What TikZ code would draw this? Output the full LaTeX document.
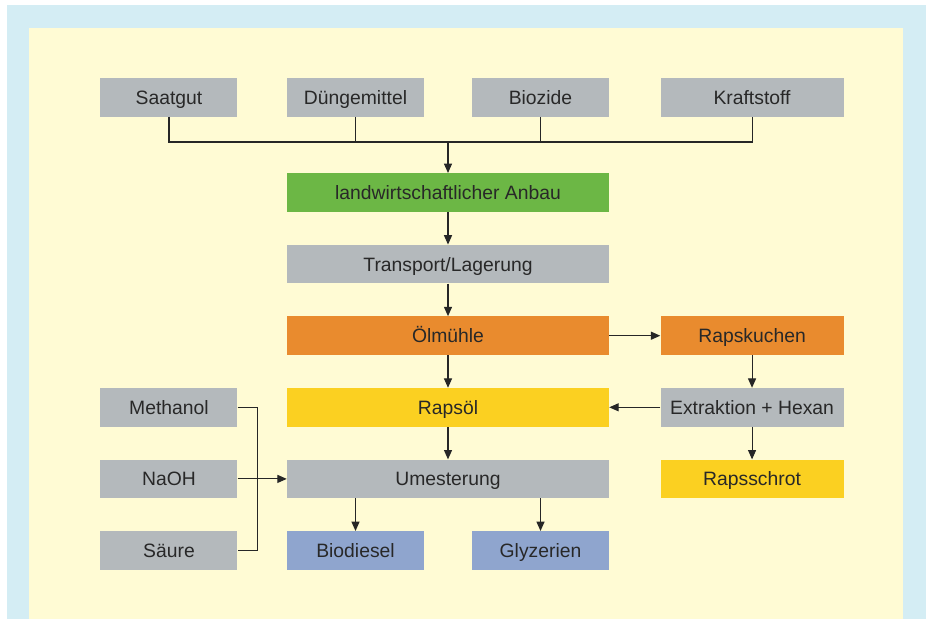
\documentclass[tikz,border=0pt]{standalone}
\usepackage{fontspec}
\setmainfont{Liberation Sans}
\usetikzlibrary{positioning, arrows.meta}
\definecolor{panelblue}{RGB}{212,237,244}
\definecolor{panelyellow}{RGB}{255,251,212}
\definecolor{boxgray}{RGB}{180,185,188}
\definecolor{boxgreen}{RGB}{108,183,69}
\definecolor{boxorange}{RGB}{233,139,46}
\definecolor{boxyellow}{RGB}{251,208,33}
\definecolor{boxblue}{RGB}{143,165,206}
\definecolor{textgray}{RGB}{40,40,40}

\begin{document}
\begin{tikzpicture}[
		x=0.75pt, y=-0.75pt,
		node distance=24.4pt and 36.75pt,
		box/.style={inner sep=0pt, minimum height=28.9pt, text height=10.4pt, text depth=0pt, text=textgray, font=\fontsize{14.5}{16}\selectfont},
		wide/.style={box, minimum width=241.5pt},
		small/.style={box, minimum width=102.75pt},
		side/.style={box, minimum width=137.25pt},
		arrow/.style={-{Triangle[length=7pt, width=6pt]}, thick, color=black!85},
		link/.style={thick, color=black!85}
		]
		
		% ==========================================
		% BACKGROUND PANEL
		% ==========================================
		\useasboundingbox (0,0) rectangle (930,619);
		\fill[panelblue] (7,5) rectangle (926,619);
		\fill[panelyellow] (29,28) rectangle (903,619);
		
		% ==========================================
		% MAIN CHAIN
		% ==========================================
		\node[wide, fill=boxgreen] (anbau) at (448,192.5) {landwirtschaftlicher Anbau};
		\node[wide, fill=boxgray, below=of anbau] (transport) {Transport/Lagerung};
		\node[wide, fill=boxorange, below=of transport] (oelmuehle) {Ölmühle};
		\node[wide, fill=boxyellow, below=of oelmuehle] (rapsoel) {Rapsöl};
		\node[wide, fill=boxgray, below=of rapsoel] (umesterung) {Umesterung};
		
		% ==========================================
		% INPUTS TO CULTIVATION
		% ==========================================
		\node[small, fill=boxgray, above right=42pt and 0pt of anbau.north west] (duenger) {Düngemittel};
		\node[small, fill=boxgray, above left=42pt and 0pt of anbau.north east] (biozide) {Biozide};
		\node[small, fill=boxgray, left=of duenger] (saatgut) {Saatgut};
		\node[side, fill=boxgray, right=38.25pt of biozide] (kraftstoff) {Kraftstoff};
		
		% ==========================================
		% PRESS CAKE BRANCH
		% ==========================================
		\node[side, fill=boxorange, right=38.25pt of oelmuehle] (rapskuchen) {Rapskuchen};
		\node[side, fill=boxgray, below=of rapskuchen] (extraktion) {Extraktion + Hexan};
		\node[side, fill=boxyellow, below=of extraktion] (rapsschrot) {Rapsschrot};
		
		% ==========================================
		% TRANSESTERIFICATION
		% ==========================================
		\node[small, fill=boxgray, left=of rapsoel] (methanol) {Methanol};
		\node[small, fill=boxgray, left=of umesterung] (naoh) {NaOH};
		\node[small, fill=boxgray, below=of naoh] (saeure) {Säure};
		\node[small, fill=boxblue, below right=24.4pt and 0pt of umesterung.south west] (biodiesel) {Biodiesel};
		\node[small, fill=boxblue, below left=24.4pt and 0pt of umesterung.south east] (glyzerien) {Glyzerien};
		
		% ==========================================
		% CONNECTORS
		% ==========================================
		\coordinate (bus) at ([yshift=23.25pt]anbau.north);
		\draw[link] (saatgut.south) |- (bus) -| (kraftstoff.south);
		\draw[link] (duenger.south) -- (duenger.south |- bus);
		\draw[link] (biozide.south) -- (biozide.south |- bus);
		\draw[arrow] (bus) -- (anbau);
		
		\draw[arrow] (anbau) -- (transport);
		\draw[arrow] (transport) -- (oelmuehle);
		\draw[arrow] (oelmuehle) -- (rapsoel);
		\draw[arrow] (rapsoel) -- (umesterung);
		
		\draw[arrow] (oelmuehle) -- (rapskuchen);
		\draw[arrow] (rapskuchen) -- (extraktion);
		\draw[arrow] (extraktion) -- (rapsoel);
		\draw[arrow] (extraktion) -- (rapsschrot);
		
		\draw[link] (methanol.east) -- ++(15pt,0) |- (saeure.east);
		\draw[arrow] (naoh) -- (umesterung);
		\draw[arrow] (umesterung.south -| biodiesel) -- (biodiesel);
		\draw[arrow] (umesterung.south -| glyzerien) -- (glyzerien);
		
	\end{tikzpicture}
\end{document}
